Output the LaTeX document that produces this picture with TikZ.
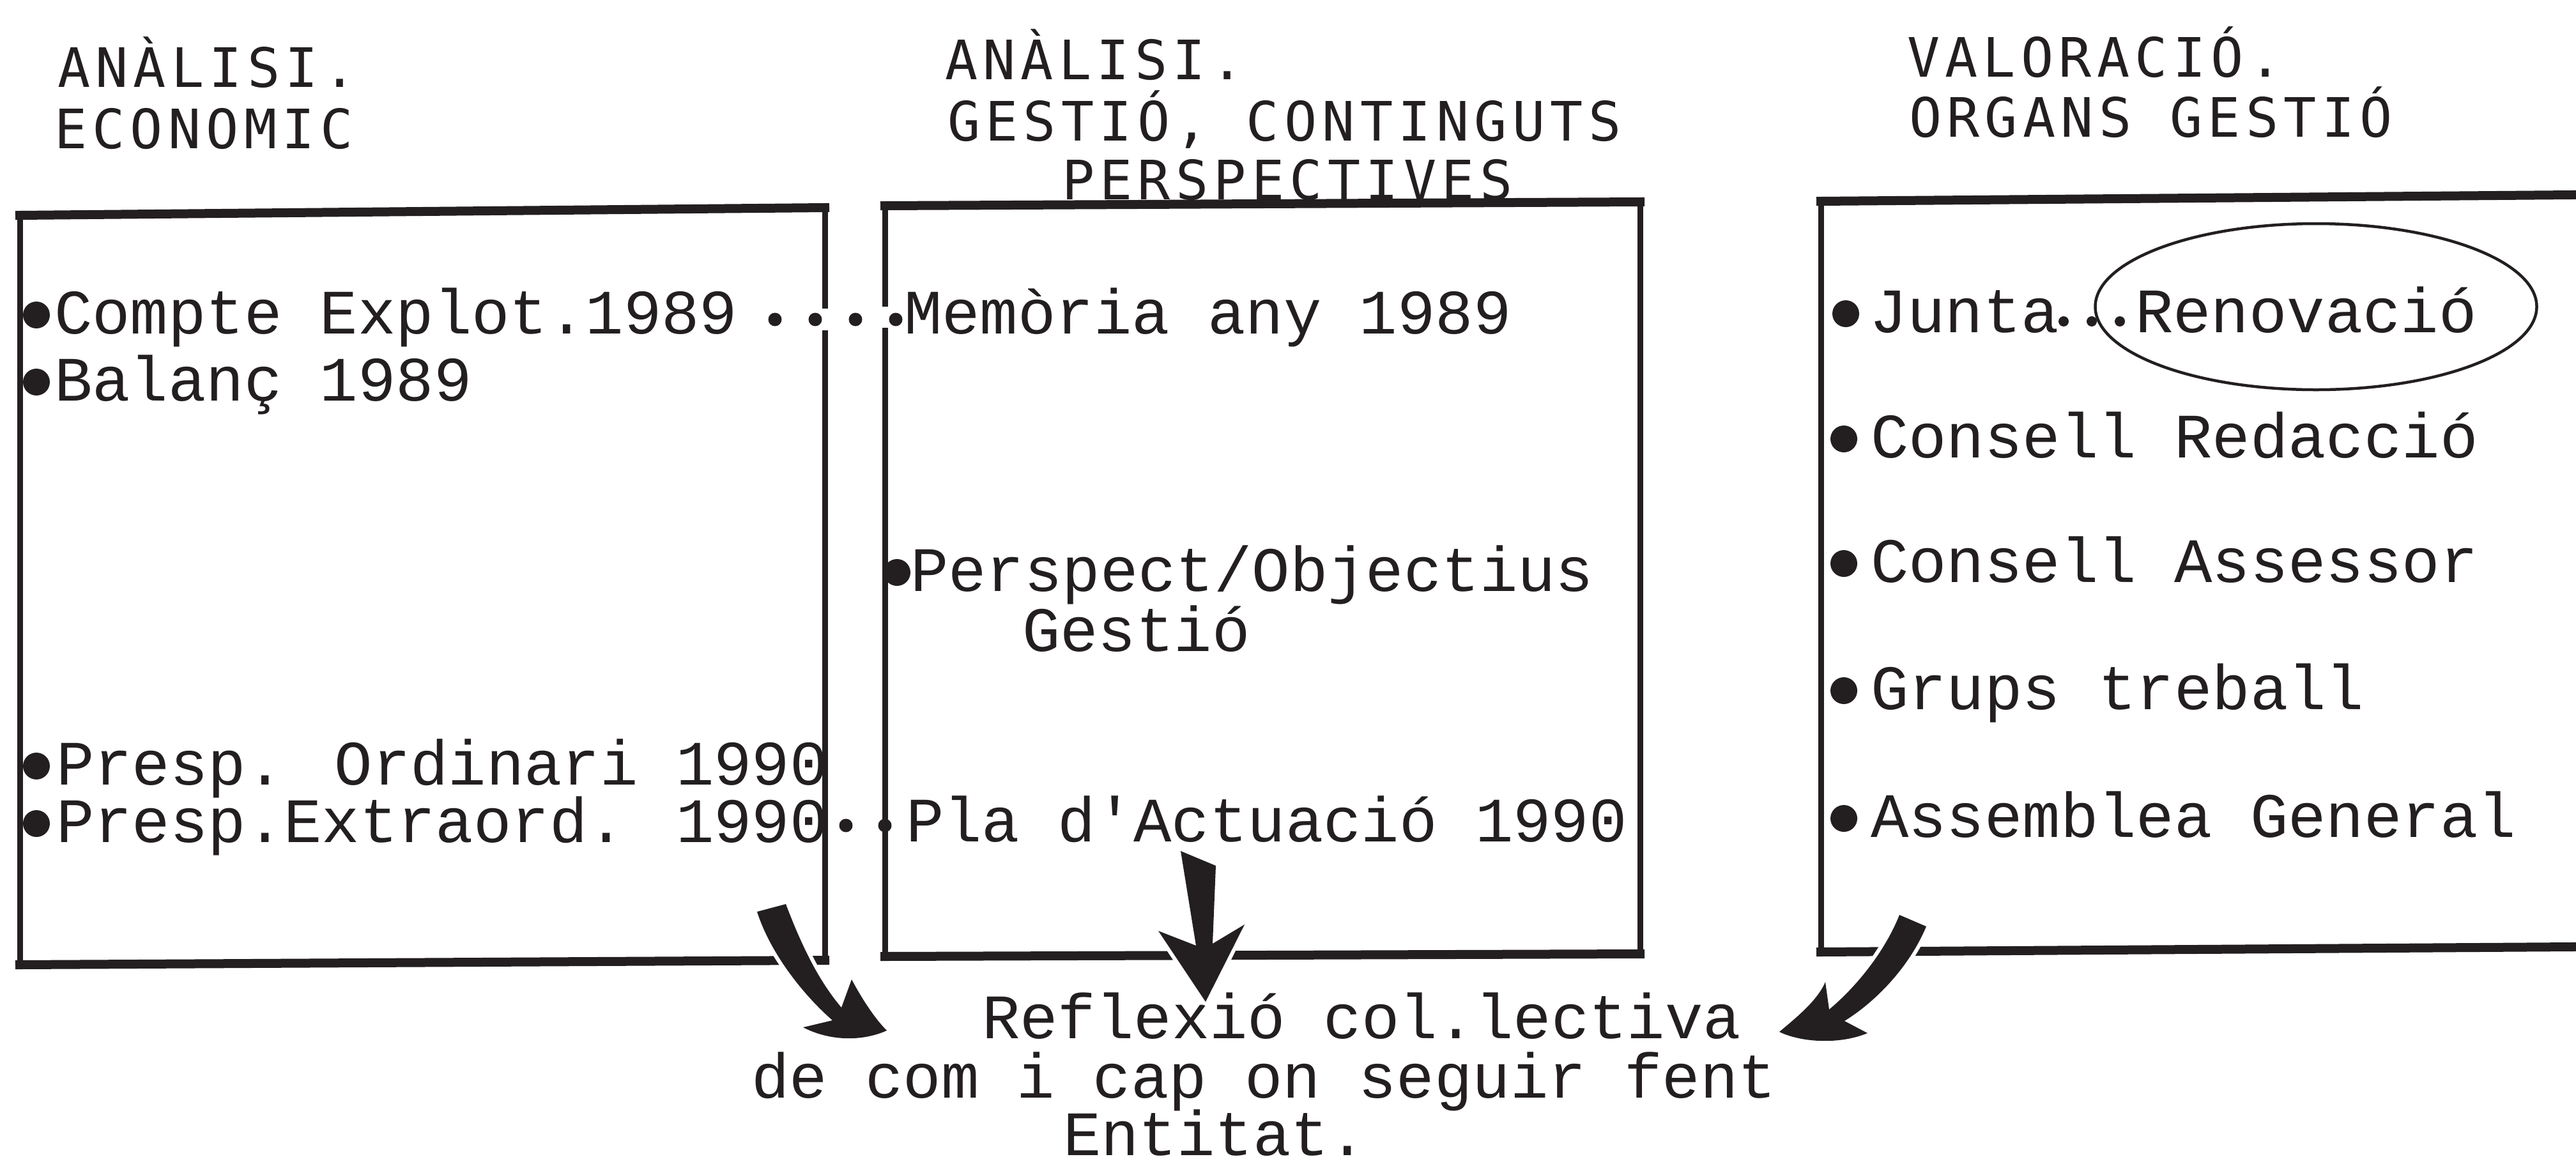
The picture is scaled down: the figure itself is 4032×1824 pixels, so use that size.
\documentclass[tikz,border=0pt]{standalone}
\usepackage{fontspec}
\usetikzlibrary{shapes.geometric}
\newfontfamily\bodyfont[Ligatures=TeXOff]{Liberation Mono}
\newfontfamily\headfont[LetterSpace=9.8]{DejaVu Sans Mono}
\definecolor{ink}{RGB}{35,31,32}
\begin{document}
\begin{tikzpicture}[x=1pt, y=-1pt, color=ink,
  body/.style={anchor=base west, inner sep=0pt, outer sep=0pt, font=\bodyfont\fontsize{99}{110}\selectfont},
  head/.style={anchor=base west, inner sep=0pt, outer sep=0pt, font=\headfont\fontsize{85}{95}\selectfont},
  hline/.style={line width=14pt, line cap=rect},
  vline/.style={line width=9pt},
  bulletmark/.style={fill=ink},
  dotrow/.style={line width=21pt, line cap=round, dash pattern=on 0pt off 63pt},
  dotrowsmall/.style={line width=16pt, line cap=round, dash pattern=on 0pt off 44pt},
  bigarrow/.style={fill=ink, preaction={draw=white, fill=none, line width=12pt, line join=round}},
  ring/.style={draw, ellipse, line width=4.5pt, inner sep=0pt, minimum width=691pt, minimum height=260pt}
]
\useasboundingbox (0,0) rectangle (4032,1824);
\fill[white] (0,0) rectangle (4032,1824);

% ---- headings
\node[head] (h1a) at (90,136) {ANÀLISI.};
\node[head] (h1b) at (85,232) {ECONOMIC};
\node[head] (h2a) at (1479,124) {ANÀLISI.};
\node[head] (h2b) at (1483,220) {GESTIÓ, CONTINGUTS};
\node[head] (h2c) at (1662,312) {PERSPECTIVES};
\node[head] (h3a) at (2985,120) {VALORACIÓ.};
\node[head] (h3b) at (2988,214) {ORGANS GESTIÓ};

% ---- box 1
\draw[vline] (31,337) -- (31,1510);
\draw[vline] (1291,325) -- (1291,1503);
\draw[hline] (31,337) -- (1291,325);
\draw[hline] (31,1510) -- (1291,1503);
% ---- box 2
\draw[vline] (1385,322) -- (1385,1497);
\draw[vline] (2567,316) -- (2567,1493);
\draw[hline] (1385,322) -- (2567,316);
\draw[hline] (1385,1497) -- (2567,1493);
% ---- box 3 (runs off the right edge)
\draw[vline] (2850,315) -- (2850,1490);
\draw[hline] (2850,315) -- (4025,305);
\draw[hline] (2850,1490) -- (4025,1482);
% small breaks in the box sides where the dotted link passes
\fill[white] (1285,483) rectangle (1298,517);
\fill[white] (1378,480) rectangle (1391,513);

% ---- box 1 items
\node[body] (c1) at (85,522) {Compte Explot.1989};
\node[body] (c2) at (85,627) {Balanç 1989};
\node[body] (c3) at (88,1228) {Presp. Ordinari 1990};
\node[body] (c4) at (88,1318) {Presp.Extraord. 1990};
\fill[bulletmark] (57,493) circle[radius=21pt];
\fill[bulletmark] (57,598) circle[radius=21pt];
\fill[bulletmark] (57,1199) circle[radius=21pt];
\fill[bulletmark] (57,1289) circle[radius=21pt];

% ---- box 2 items
\node[body] (m1) at (1415,522) {Memòria any 1989};
\node[body] (m2) at (1425,925) {Perspect/Objectius};
\node[body] (m3) at (1600,1019) {Gestió};
\node[body] (m4) at (1418,1317) {Pla d'Actuació 1990};
\fill[bulletmark] (1404,896) circle[radius=21pt];

% ---- box 3 items
\node[body] (j1) at (2926,520) {Junta};
\node[body] (j2) at (3342,520) {Renovació};
\node[ring] (jring) at (3625,480) {};
\node[body] (k1) at (2928,716) {Consell Redacció};
\node[body] (k2) at (2928,911) {Consell Assessor};
\node[body] (k3) at (2928,1110) {Grups treball};
\node[body] (k4) at (2928,1310) {Assemblea General};
\fill[bulletmark] (2889,491) circle[radius=21pt];
\fill[bulletmark] (2886,687) circle[radius=21pt];
\fill[bulletmark] (2886,882) circle[radius=21pt];
\fill[bulletmark] (2886,1081) circle[radius=21pt];
\fill[bulletmark] (2886,1281) circle[radius=21pt];

% ---- dotted links
\coordinate (dA) at (1213,500); \coordinate (dB) at (1405,500);
\draw[dotrow] (dA) -- (dB);
\coordinate (dC) at (1324,1292); \coordinate (dD) at (1388,1292);
\draw[dotrow, dash pattern=on 0pt off 61pt] (dC) -- (dD);
\coordinate (dE) at (3230,503); \coordinate (dF) at (3321,503);
\draw[dotrowsmall] (dE) -- (dF);

% ---- bottom text
\node[body] (r1) at (1537,1625) {Reflexió col.lectiva};
\node[body] (r2) at (1176,1718) {de com i cap on seguir fent};
\node[body] (r3) at (1664,1808) {Entitat.};

% ---- big arrows
\path[bigarrow] (1185,1427) -- (1230,1415)
  .. controls (1262,1500) and (1290,1545) .. (1317,1577)
  -- (1333,1533)
  .. controls (1350,1565) and (1370,1595) .. (1388,1613)
  .. controls (1350,1630) and (1300,1630) .. (1257,1608)
  -- (1303,1597)
  .. controls (1255,1555) and (1205,1490) .. (1185,1427) -- cycle;
\path[bigarrow] (1848,1332) -- (1903,1355) -- (1898,1477) -- (1948,1447)
  -- (1887,1568) -- (1813,1457) -- (1872,1480) -- cycle;
\path[bigarrow] (2973,1432) -- (3015,1450)
  .. controls (2990,1510) and (2940,1565) .. (2887,1598)
  -- (2923,1617)
  .. controls (2880,1635) and (2820,1632) .. (2785,1615)
  .. controls (2815,1590) and (2845,1565) .. (2857,1537)
  -- (2863,1580)
  .. controls (2905,1545) and (2950,1490) .. (2973,1432) -- cycle;
\end{tikzpicture}
\end{document}
